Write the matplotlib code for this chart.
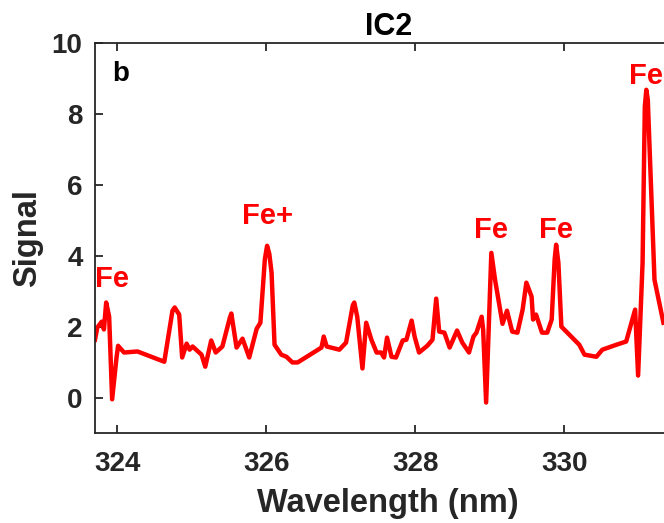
import matplotlib
matplotlib.use("Agg")
import matplotlib.pyplot as plt

# spectrum (wavelength in nm, signal)
wavelength = [323.70, 323.73, 323.79, 323.82, 323.85, 323.89, 323.93, 323.99, 324.01, 324.09,
              324.27, 324.63, 324.74, 324.77, 324.83, 324.87, 324.93, 324.97, 325.01, 325.13,
              325.18, 325.26, 325.32, 325.41, 325.51, 325.53, 325.60, 325.68, 325.77, 325.87,
              325.92, 325.98, 326.01, 326.04, 326.07, 326.11, 326.20, 326.27, 326.35, 326.42,
              326.74, 326.77, 326.81, 326.98, 327.07, 327.16, 327.18, 327.22, 327.29, 327.34,
              327.41, 327.48, 327.54, 327.58, 327.62, 327.68, 327.74, 327.83, 327.88, 327.95,
              327.99, 328.05, 328.16, 328.23, 328.28, 328.32, 328.39, 328.46, 328.56, 328.63,
              328.72, 328.78, 328.82, 328.89, 328.91, 328.95, 329.02, 329.07, 329.17, 329.23,
              329.30, 329.37, 329.44, 329.49, 329.56, 329.58, 329.62, 329.70, 329.77, 329.83,
              329.87, 329.89, 329.92, 329.96, 330.20, 330.27, 330.43, 330.51, 330.70, 330.83,
              330.95, 330.99, 331.05, 331.08, 331.10, 331.12, 331.14, 331.21, 331.33]
signal = [1.63, 1.97, 2.14, 1.92, 2.68, 2.28, -0.05, 1.15, 1.46, 1.27,
          1.30, 1.01, 2.45, 2.54, 2.34, 1.13, 1.52, 1.35, 1.44, 1.21,
          0.87, 1.61, 1.27, 1.44, 2.25, 2.37, 1.41, 1.66, 1.13, 1.94,
          2.11, 3.90, 4.28, 4.05, 3.52, 1.49, 1.21, 1.15, 0.99, 0.99,
          1.41, 1.72, 1.44, 1.35, 1.55, 2.60, 2.68, 2.28, 0.82, 2.11,
          1.63, 1.27, 1.27, 1.13, 1.69, 1.15, 1.13, 1.61, 1.63, 2.17,
          1.72, 1.27, 1.46, 1.63, 2.79, 1.86, 1.83, 1.41, 1.89, 1.55,
          1.27, 1.72, 1.83, 2.28, 1.92, -0.14, 4.08, 3.32, 2.08, 2.45,
          1.86, 1.83, 2.48, 3.24, 2.85, 2.20, 2.34, 1.83, 1.83, 2.20,
          3.90, 4.31, 3.80, 2.00, 1.49, 1.21, 1.15, 1.35, 1.49, 1.58,
          2.48, 0.62, 3.80, 8.20, 8.68, 8.40, 7.27, 3.32, 2.11]

# peak annotations: (label, x, baseline y)
peak_labels = ["Fe", "Fe+", "Fe", "Fe", "Fe"]
peak_x = [323.93, 326.02, 329.02, 329.89, 331.10]
peak_y = [3.12, 4.90, 4.50, 4.50, 8.85]

xticks = [324, 326, 328, 330]
yticks = [0, 2, 4, 6, 8, 10]

DARK = "#262626"
plt.rcParams.update({
    "font.family": "Liberation Sans",
    "font.weight": "bold",
    "axes.labelweight": "bold",
    "axes.titleweight": "bold",
})

fig = plt.figure(figsize=(6.64, 5.23), dpi=100)
# axes extend past the right edge of the figure, as in the cropped reference
x0, x1 = 323.70, 331.57
ax = fig.add_axes([95 / 664, 90 / 523, (x1 - x0) * 74.5 / 664, 390 / 523])
ax.plot(wavelength, signal, color="red", lw=3.2, solid_joinstyle="round")
ax.set_xlim(x0, x1)
ax.set_ylim(-1, 10)
ax.set_xticks(xticks)
ax.set_yticks(yticks)
ax.tick_params(direction="in", top=True, right=True, length=6, width=1.3,
               labelsize=20, colors=DARK)
ax.tick_params(axis="x", pad=13)
ax.tick_params(axis="y", pad=9)
for spine in ax.spines.values():
    spine.set_linewidth(1.3)
    spine.set_color(DARK)

ax.set_xlabel("Wavelength (nm)", fontsize=23.5, color=DARK, labelpad=8)
ax.set_ylabel("Signal", fontsize=23.5, color=DARK, labelpad=6)
ax.set_title("IC2", fontsize=22, color="black", pad=6)

for lab, x, y in zip(peak_labels, peak_x, peak_y):
    ax.text(x, y, lab, color="red", fontsize=21, ha="center", va="baseline", fontweight="bold")
ax.text(0.03, 0.955, "b", transform=ax.transAxes, fontsize=20, color="black",
        ha="left", va="top", fontweight="bold")

fig.savefig("out.png", dpi=100)
